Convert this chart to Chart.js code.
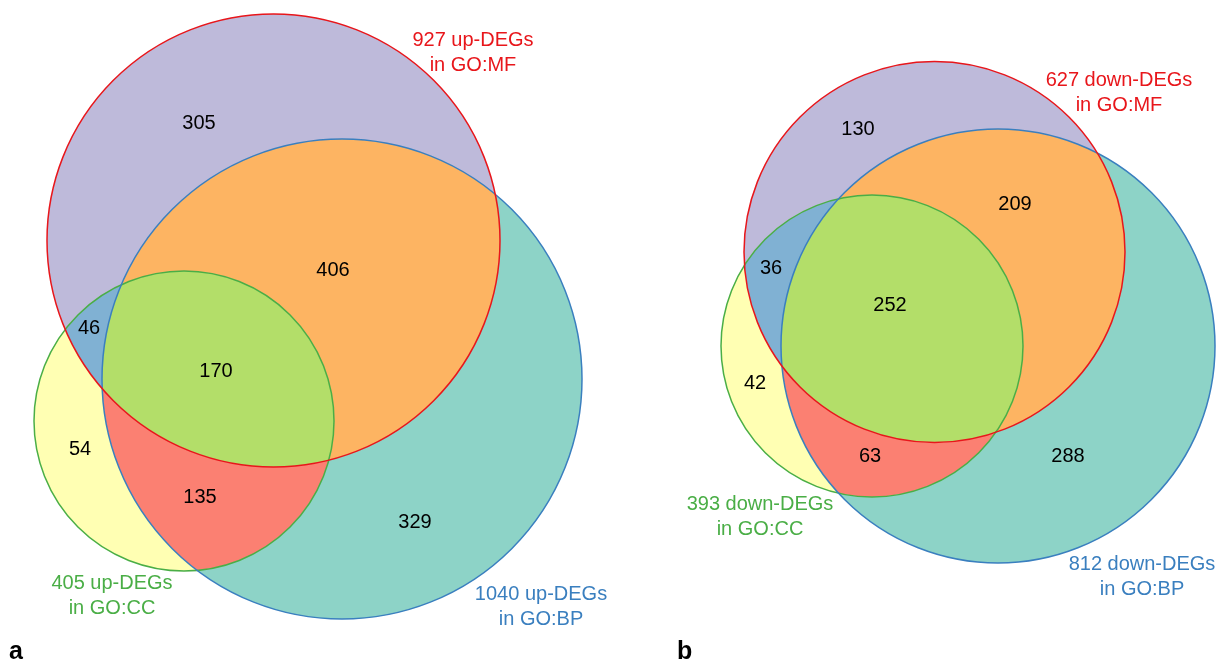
<!DOCTYPE html>
<html>
<head>
<meta charset="utf-8">
<script src="https://cdn.jsdelivr.net/npm/chart.js@4.4.0/dist/chart.umd.min.js"></script>
<style>
  html, body { margin: 0; padding: 0; background: #fff; }
  #wrap { width: 1217px; height: 662px; }
</style>
</head>
<body>
<div id="wrap"><canvas id="venn"></canvas></div>
<script>
// region order: MF only, MF+BP, BP only, MF+CC, MF+BP+CC, BP+CC, CC only
const regionSets = [[1,0,0],[1,1,0],[0,1,0],[1,0,1],[1,1,1],[0,1,1],[0,0,1]];
const upCounts   = [305, 406, 329, 46, 170, 135, 54];
const downCounts = [130, 209, 288, 36, 252, 63, 42];

const setNames   = ["GO:MF", "GO:BP", "GO:CC"];
const upTotals   = [927, 1040, 405];
const downTotals = [627, 812, 393];
const panelTags  = ["a", "b"];

// layout (in the chart's own x/y units)
const circlesUp   = [{x:273.5,y:240.5,r:226.5},{x:342,y:379,r:240},{x:184,y:421,r:150}];
const circlesDown = [{x:934.5,y:252,r:190.5},{x:998,y:346,r:217},{x:872,y:346,r:151}];
const numPosUp    = [[199,123],[333,270],[415,522],[89,328],[216,371],[200,497],[80,449]];
const numPosDown  = [[858,129],[1015,204],[1068,456],[771,268],[890,305],[870,456],[755,383]];
const setLblUp    = [[473,40],[541,594],[112,583]];
const setLblDown  = [[1119,80],[1142,564],[760,504]];
const tagPos      = [[9,652],[677,652]];

const regionColors = ["#bebada","#fdb462","#8dd3c7","#80b1d3","#b3de69","#fb8072","#ffffb3"];
const edgeColors   = ["#e8161b","#3a7fbf","#4aae46"];
const FONT = "'Liberation Sans', Arial, sans-serif";

function toPx(chart, c){
  const xs = chart.scales.x, ys = chart.scales.y;
  const x = xs.getPixelForValue(c.x), y = ys.getPixelForValue(c.y);
  const r = Math.abs(xs.getPixelForValue(c.x + c.r) - x);
  return {x, y, r};
}

function fillRegion(ctx, area, circ, inside, color){
  ctx.save();
  circ.forEach((c,i)=>{
    ctx.beginPath();
    if (inside[i]) {
      ctx.arc(c.x, c.y, c.r, 0, Math.PI*2);
      ctx.clip();
    } else {
      ctx.rect(area.left-5, area.top-5, area.width+10, area.height+10);
      ctx.moveTo(c.x + c.r, c.y);
      ctx.arc(c.x, c.y, c.r, 0, Math.PI*2);
      ctx.clip("evenodd");
    }
  });
  ctx.fillStyle = color;
  ctx.fillRect(area.left, area.top, area.width, area.height);
  ctx.restore();
}

const vennPlugin = {
  id: "venn",
  beforeDatasetsDraw(chart){
    const ctx = chart.ctx, area = chart.chartArea;
    [circlesUp, circlesDown].forEach(cs=>{
      const circ = cs.map(c=>toPx(chart, c));
      regionSets.forEach((s,i)=>fillRegion(ctx, area, circ, s, regionColors[i]));
      ctx.save();
      ctx.lineWidth = 1.5;
      [2,1,0].forEach(i=>{
        const c = circ[i];
        ctx.beginPath();
        ctx.arc(c.x, c.y, c.r, 0, Math.PI*2);
        ctx.strokeStyle = edgeColors[i];
        ctx.stroke();
      });
      ctx.restore();
    });
  },
  afterDatasetsDraw(chart){
    const ctx = chart.ctx, xs = chart.scales.x, ys = chart.scales.y;
    ctx.save();
    ctx.textAlign = "center";
    ctx.textBaseline = "middle";
    ctx.font = "20px " + FONT;
    ctx.fillStyle = "#000";
    chart.data.datasets.forEach((ds,di)=>{
      chart.getDatasetMeta(di).data.forEach((pt,i)=>{
        ctx.fillText(String(ds.data[i].v), pt.x, pt.y);
      });
    });

    const groups = [
      {tot: upTotals, pos: setLblUp, word: "up-DEGs"},
      {tot: downTotals, pos: setLblDown, word: "down-DEGs"}
    ];
    groups.forEach(g=>{
      g.tot.forEach((t,i)=>{
        const x = xs.getPixelForValue(g.pos[i][0]);
        const y = ys.getPixelForValue(g.pos[i][1]);
        ctx.fillStyle = edgeColors[i];
        ctx.fillText(t + " " + g.word, x, y);
        ctx.fillText("in " + setNames[i], x, y + 25);
      });
    });

    ctx.textAlign = "left";
    ctx.font = "bold 25px " + FONT;
    ctx.fillStyle = "#000";
    panelTags.forEach((t,i)=>{
      ctx.fillText(t, xs.getPixelForValue(tagPos[i][0]), ys.getPixelForValue(tagPos[i][1]));
    });
    ctx.restore();
  }
};

function pointsFor(counts, pos){
  return counts.map((v,i)=>({x: pos[i][0], y: pos[i][1], v}));
}

new Chart(document.getElementById("venn"), {
  type: "scatter",
  data: {
    datasets: [
      { label: "up-DEGs", data: pointsFor(upCounts, numPosUp), pointRadius: 0 },
      { label: "down-DEGs", data: pointsFor(downCounts, numPosDown), pointRadius: 0 }
    ]
  },
  options: {
    animation: false,
    responsive: true,
    maintainAspectRatio: false,
    layout: { padding: 0 },
    plugins: { legend: { display: false }, tooltip: { enabled: false } },
    scales: {
      x: { type: "linear", min: 0, max: 1217, display: false },
      y: { type: "linear", min: 0, max: 662, reverse: true, display: false }
    }
  },
  plugins: [vennPlugin]
});
</script>
</body>
</html>
